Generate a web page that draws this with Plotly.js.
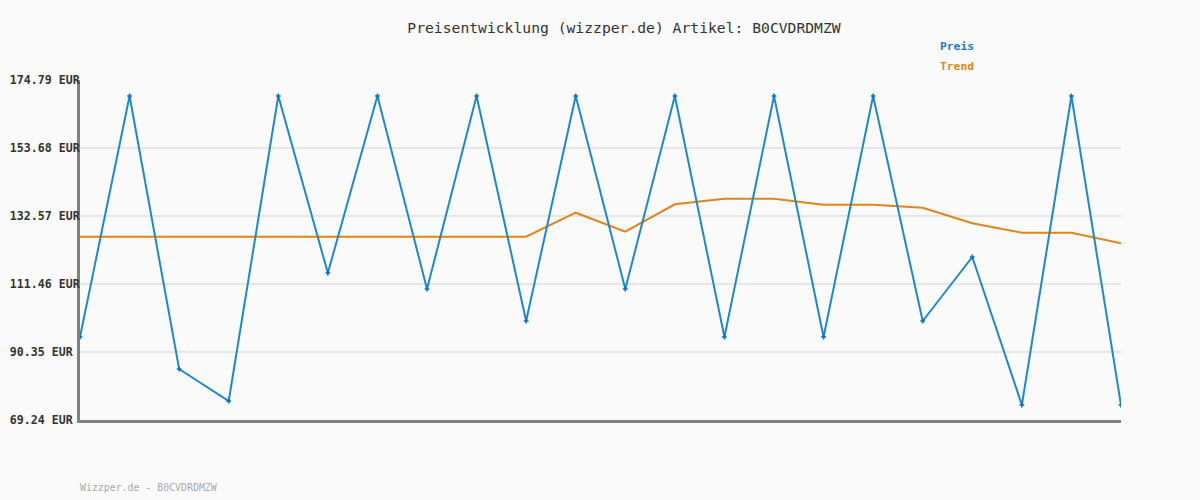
<!DOCTYPE html>
<html>
<head>
<meta charset="utf-8">
<script src="https://cdn.plot.ly/plotly-3.0.1.min.js"></script>
<style>html,body{margin:0;padding:0;background:#fafafa;}#chart{width:1200px;height:500px;}</style>
</head>
<body>
<div id="chart"></div>
<script>
const pointIndex = [0,1,2,3,4,5,6,7,8,9,10,11,12,13,14,15,16,17,18,19,20,21];
const preis = [95.01,169.82,85.07,75.14,169.82,114.88,169.82,109.91,169.82,99.97,169.82,109.91,169.82,95.01,169.82,95.01,169.82,99.97,119.84,73.90,169.82,73.90];
const trend = [126.14,126.14,126.14,126.14,126.14,126.14,126.14,126.14,126.14,126.14,133.59,127.70,136.20,137.94,137.94,136.08,136.08,135.15,130.30,127.39,127.39,124.09];
const yTickVals = [69.24,90.35,111.46,132.57,153.68,174.79];
const yTickText = ['69.24 EUR\u00a0','90.35 EUR\u00a0','111.46 EUR','132.57 EUR','153.68 EUR','174.79 EUR'];
const titleText = 'Preisentwicklung (wizzper.de) Artikel: B0CVDRDMZW';
const footerText = 'Wizzper.de - B0CVDRDMZW';
const seriesNames = ['Preis','Trend'];

const mono = 'DejaVu Sans Mono, monospace';
const data = [
  {x: pointIndex, y: trend, type:'scatter', mode:'lines', name: seriesNames[1],
   line:{color:'#e0851c', width:2}, hoverinfo:'skip'},
  {x: pointIndex, y: preis, type:'scatter', mode:'lines+markers', name: seriesNames[0],
   line:{color:'#1e88d2', width:2},
   marker:{symbol:'cross', size:4, color:'#0b6fbd'}}
];
const layout = {
  width:1200, height:500,
  paper_bgcolor:'#fafafa', plot_bgcolor:'#fafafa',
  margin:{l:80, r:79, t:80, b:80},
  showlegend:false,
  title:{text:titleText, x:0.52, xanchor:'center', y:0.944, yanchor:'middle',
         font:{family:mono, size:14.7, color:'#333'}},
  xaxis:{range:[0,21], showgrid:false, zeroline:false, showticklabels:false, ticks:'',
         showline:true, linecolor:'#808080', linewidth:3, fixedrange:true},
  yaxis:{range:[69.24,174.79], tickvals:yTickVals, ticktext:yTickText, ticks:'',
         showgrid:true, gridcolor:'#e6e6e6', gridwidth:2, zeroline:false,
         showline:true, linecolor:'#808080', linewidth:3, ticklabelstandoff:-5,
         tickfont:{family:mono, size:11.6, color:'#333', weight:'bold'}},
  annotations:[
    {xref:'paper', yref:'paper', x:(938-80)/1041, y:(420-47)/340, xanchor:'left', yanchor:'middle',
     text:'<b>'+seriesNames[0]+'</b>', showarrow:false, font:{family:mono, size:11.3, color:'#1a7ac4'}},
    {xref:'paper', yref:'paper', x:(938-80)/1041, y:(420-67)/340, xanchor:'left', yanchor:'middle',
     text:'<b>'+seriesNames[1]+'</b>', showarrow:false, font:{family:mono, size:11.3, color:'#e0861c'}},
    {xref:'paper', yref:'paper', x:-2/1041, y:(420-487)/340, xanchor:'left', yanchor:'middle',
     text:footerText, showarrow:false, font:{family:mono, size:9.9, color:'#aaaaaa'}}
  ]
};
Plotly.newPlot('chart', data, layout, {displayModeBar:false, staticPlot:true});
</script>
</body>
</html>
